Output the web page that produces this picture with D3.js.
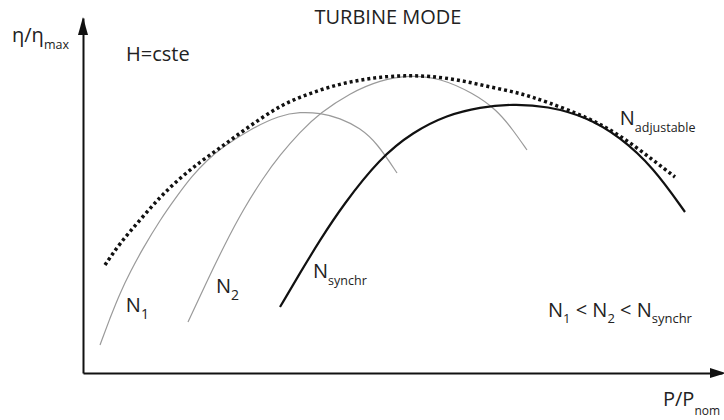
<!DOCTYPE html>
<html>
<head>
<meta charset="utf-8">
<script src="https://cdn.jsdelivr.net/npm/d3@7"></script>
<style>
  body { margin: 0; background: #fff; }
  svg { display: block; font-family: "Open Sans", sans-serif; }
</style>
</head>
<body>
<div id="chart-area"></div>
<script>
// Curves as [P/Pnom, eta/etamax] in relative units (0-100)
var adjustable = [[3.44,30.42],[5.79,36.62],[8.92,43.10],[12.05,49.58],[15.18,54.93],[18.31,59.44],
    [21.44,63.38],[24.57,67.61],[27.70,71.55],[30.83,75.21],[33.96,77.75],[37.09,79.72],[40.22,81.41],
    [43.35,82.54],[46.48,83.38],[50.39,83.80],[54.30,83.66],[59.00,82.54],[63.69,80.56],[68.39,78.87],
    [72.61,76.34],[78.87,72.11],[84.04,67.04],[89.20,60.00],[92.64,55.21]];
var n1 = [[2.66,7.89],[4.23,15.49],[5.79,22.54],[7.51,28.87],[9.23,34.65],[12.05,43.10],[14.71,49.86],
    [17.06,55.49],[19.41,59.92],[21.75,63.52],[26.13,68.65],[30.83,72.62],[33.96,73.52],[37.09,73.24],
    [40.22,71.83],[43.35,69.01],[46.01,64.79],[49.14,56.34]];
var n2 = [[16.43,14.37],[19.41,25.92],[22.22,36.34],[25.04,45.92],[28.17,54.93],[30.83,61.41],
    [33.96,67.89],[37.09,73.24],[41.78,78.87],[46.48,82.54],[51.17,83.94],[55.87,83.10],[61.03,78.87],
    [64.79,74.08],[67.29,68.45],[69.48,62.82]];
var synchr = [[30.83,18.59],[33.96,28.17],[37.09,37.46],[40.69,47.32],[46.48,60.56],[51.64,67.89],
    [56.96,72.68],[62.13,74.93],[67.29,75.77],[72.61,75.21],[78.87,72.11],[84.04,66.48],[89.20,58.03],
    [94.21,45.35]];

// Labels: [main, subscript, P, eta]
var curveLabels = [
    ["N", "1", 6.7, 17.2],
    ["N", "2", 20.8, 22.5],
    ["N", "synchr", 36.0, 26.8],
    ["N", "adjustable", 84.0, 70.0]
];

var width = 724, height = 420;

var xScale = d3.scaleLinear().domain([0, 100]).range([83, 722]);
var yScale = d3.scaleLinear().domain([0, 100]).range([373, 18]);

var svg = d3.select("#chart-area")
    .append("svg")
    .attr("width", width)
    .attr("height", height);

// axes without ticks, just the domain line
var xAxis = d3.axisBottom(xScale).tickValues([]).tickSizeOuter(0);
var yAxis = d3.axisLeft(yScale).tickValues([]).tickSizeOuter(0);

svg.append("g")
    .attr("class", "x axis")
    .attr("transform", "translate(0," + yScale(0) + ")")
    .call(xAxis)
    .select(".domain")
    .attr("stroke", "#111")
    .attr("stroke-width", 2);

svg.append("g")
    .attr("class", "y axis")
    .attr("transform", "translate(" + xScale(0) + ",0)")
    .call(yAxis)
    .select(".domain")
    .attr("stroke", "#111")
    .attr("stroke-width", 2);

// arrow heads
var xe = xScale(100), ye = yScale(0);
svg.append("path")
    .attr("d", "M" + (xe + 4) + "," + ye + "L" + (xe - 12) + "," + (ye - 5) + "L" + (xe - 12) + "," + (ye + 5) + "Z")
    .attr("fill", "#111");
var xo = xScale(0), yt = yScale(100);
svg.append("path")
    .attr("d", "M" + xo + "," + (yt - 1) + "L" + (xo - 5) + "," + (yt + 17) + "L" + (xo + 5) + "," + (yt + 17) + "Z")
    .attr("fill", "#111");

var line = d3.line()
    .x(function(d) { return xScale(d[0]); })
    .y(function(d) { return yScale(d[1]); })
    .curve(d3.curveBasis);

svg.append("path").datum(n1)
    .attr("d", line).attr("fill", "none")
    .attr("stroke", "#9a9a9a").attr("stroke-width", 1.2);

svg.append("path").datum(n2)
    .attr("d", line).attr("fill", "none")
    .attr("stroke", "#9a9a9a").attr("stroke-width", 1.2);

svg.append("path").datum(synchr)
    .attr("d", line).attr("fill", "none")
    .attr("stroke", "#111").attr("stroke-width", 2.2);

svg.append("path").datum(adjustable)
    .attr("d", line).attr("fill", "none")
    .attr("stroke", "#111").attr("stroke-width", 3.5)
    .attr("stroke-dasharray", "3,3");

// text with a subscript
function subText(x, y, parts, size, subSize, anchor) {
    var t = svg.append("text")
        .attr("x", x).attr("y", y)
        .attr("font-size", size)
        .attr("fill", "#222")
        .style("text-anchor", anchor || "start");
    parts.forEach(function(p) {
        if (p.sub) {
            t.append("tspan").attr("dy", p.dy).attr("font-size", subSize).text(p.text);
        } else {
            t.append("tspan").attr("dy", p.dy || 0).text(p.text);
        }
    });
    return t;
}

curveLabels.forEach(function(d) {
    var sub = d[1].length > 1 ? 12.5 : 14;
    subText(xScale(d[2]), yScale(d[3]), [
        { text: d[0] },
        { text: d[1], sub: true, dy: 7 }
    ], 20, sub);
});

svg.append("text")
    .attr("x", 388).attr("y", 24)
    .attr("font-size", 20).attr("fill", "#222")
    .style("text-anchor", "middle")
    .text("TURBINE MODE");

svg.append("text")
    .attr("x", 126).attr("y", 61)
    .attr("font-size", 20).attr("fill", "#222")
    .text("H=cste");

subText(12, 42, [
    { text: "η/η" },
    { text: "max", sub: true, dy: 7 }
], 20, 12.5);

subText(548, 317, [
    { text: "N" },
    { text: "1", sub: true, dy: 6 },
    { text: " < N", dy: -6 },
    { text: "2", sub: true, dy: 6 },
    { text: " < N", dy: -6 },
    { text: "synchr", sub: true, dy: 6 }
], 20, 13);

subText(663, 406, [
    { text: "P/P" },
    { text: "nom", sub: true, dy: 9 }
], 20, 12);
</script>
</body>
</html>
